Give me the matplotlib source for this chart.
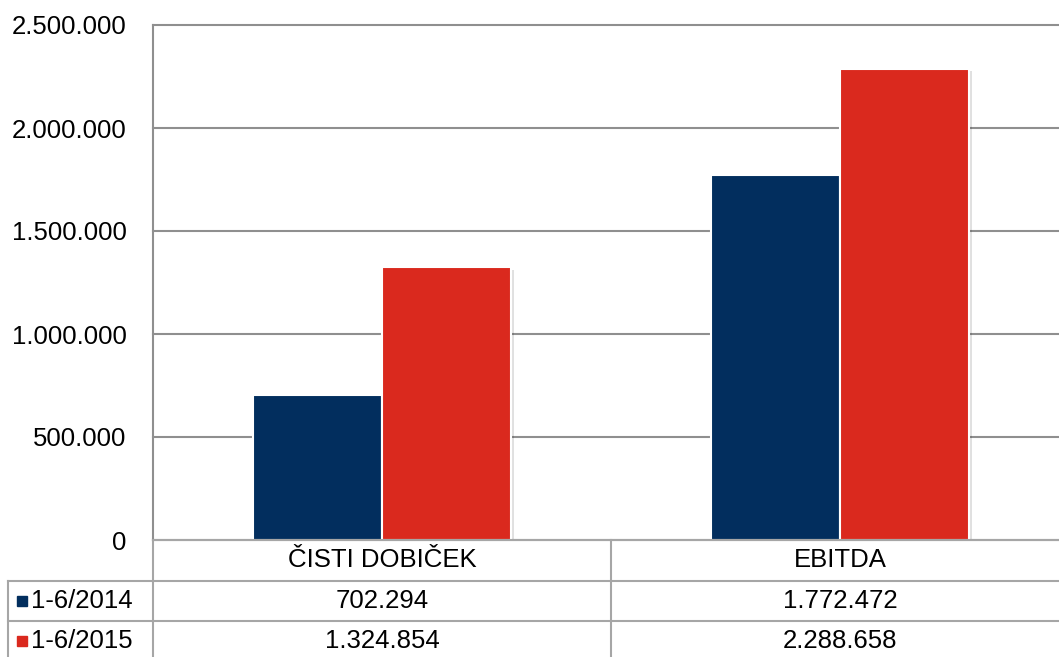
import matplotlib.pyplot as plt
from matplotlib import patheffects as pe
from matplotlib.transforms import blended_transform_factory
import numpy as np

categories = ['ČISTI DOBIČEK', 'EBITDA']
series_names = ['1-6/2014', '1-6/2015']
values_2014 = [702294, 1772472]
values_2015 = [1324854, 2288658]
y_ticks = [0, 500000, 1000000, 1500000, 2000000, 2500000]

navy = '#022e5e'
red = '#da291e'
line_gray = '#8f8f8f'
table_gray = '#a6a6a6'

plt.rcParams['font.family'] = ['Liberation Sans', 'DejaVu Sans']
fs = 18.5

W, H = 1059, 657
fig = plt.figure(figsize=(W / 100, H / 100), dpi=100)

# plot area in pixels: x 153..1069, y 25..540
ax_l, ax_r, ax_t, ax_b = 153, 1069, 25, 540
ax = fig.add_axes([ax_l / W, (H - ax_b) / H, (ax_r - ax_l) / W, (ax_b - ax_t) / H])
ax_w = ax_r - ax_l
ax_h = ax_b - ax_t

x = np.arange(len(categories))
w = 0.282
shadow = [pe.SimplePatchShadow(offset=(2, -2), shadow_rgbFace='black', alpha=0.12), pe.Normal()]
b1 = ax.bar(x - w / 2, values_2014, w, color=navy, edgecolor='white', linewidth=1.5, zorder=3)
b2 = ax.bar(x + w / 2, values_2015, w, color=red, edgecolor='white', linewidth=1.5, zorder=3)
for b in list(b1) + list(b2):
    b.set_path_effects(shadow)

ax.set_xlim(-0.5, len(categories) - 0.5)
ax.set_ylim(0, 2500000)
ax.set_yticks(y_ticks)
ax.set_yticklabels([f'{v:,.0f}'.replace(',', '.') for v in y_ticks], fontsize=fs)
ax.tick_params(axis='y', length=0, pad=19)
ax.set_xticks([])
ax.yaxis.grid(True, color=line_gray, linewidth=1.5, zorder=0)
for ln in ax.get_ygridlines():
    ln.set_clip_on(False)
ax.set_axisbelow(True)
for s in ['top', 'right', 'bottom']:
    ax.spines[s].set_visible(False)
ax.spines['left'].set_color(line_gray)
ax.spines['left'].set_linewidth(1.5)

# data table below the axis
def py(px):
    # pixels below the axis bottom -> axes fraction
    return -px / ax_h

def px_x(px):
    return (px - ax_l) / ax_w

row_h = 40.5
tA = ax.transAxes
kw = dict(transform=tA, clip_on=False, color=table_gray, linewidth=1.5, zorder=5)
ax.plot([0, 1], [0, 0], **kw)
ax.plot([px_x(8), 1], [py(row_h), py(row_h)], **kw)
ax.plot([px_x(8), 1], [py(2 * row_h), py(2 * row_h)], **kw)
ax.plot([px_x(8), 1], [py(3 * row_h), py(3 * row_h)], **kw)
ax.plot([0, 0], [0, py(130)], **kw)
ax.plot([px_x(8), px_x(8)], [py(row_h), py(130)], **kw)
ax.plot([0.5, 0.5], [0, py(130)], **kw)

tb = blended_transform_factory(ax.transData, tA)
for i, cat in enumerate(categories):
    ax.text(x[i], py(row_h * 0.5), cat, transform=tb, ha='center', va='center', fontsize=fs)
    ax.text(x[i], py(row_h * 1.5), f'{values_2014[i]:,.0f}'.replace(',', '.'),
            transform=tb, ha='center', va='center', fontsize=fs)
    ax.text(x[i], py(row_h * 2.5), f'{values_2015[i]:,.0f}'.replace(',', '.'),
            transform=tb, ha='center', va='center', fontsize=fs)

for r, (name, col) in enumerate(zip(series_names, [navy, red])):
    yy = py(row_h * (1.5 + r))
    ax.plot([px_x(21.5)], [yy], marker='s', markersize=7, color=col, transform=tA, clip_on=False)
    ax.text(px_x(31), yy, name, transform=tA, ha='left', va='center', fontsize=fs)

fig.savefig('out.png', dpi=100)
